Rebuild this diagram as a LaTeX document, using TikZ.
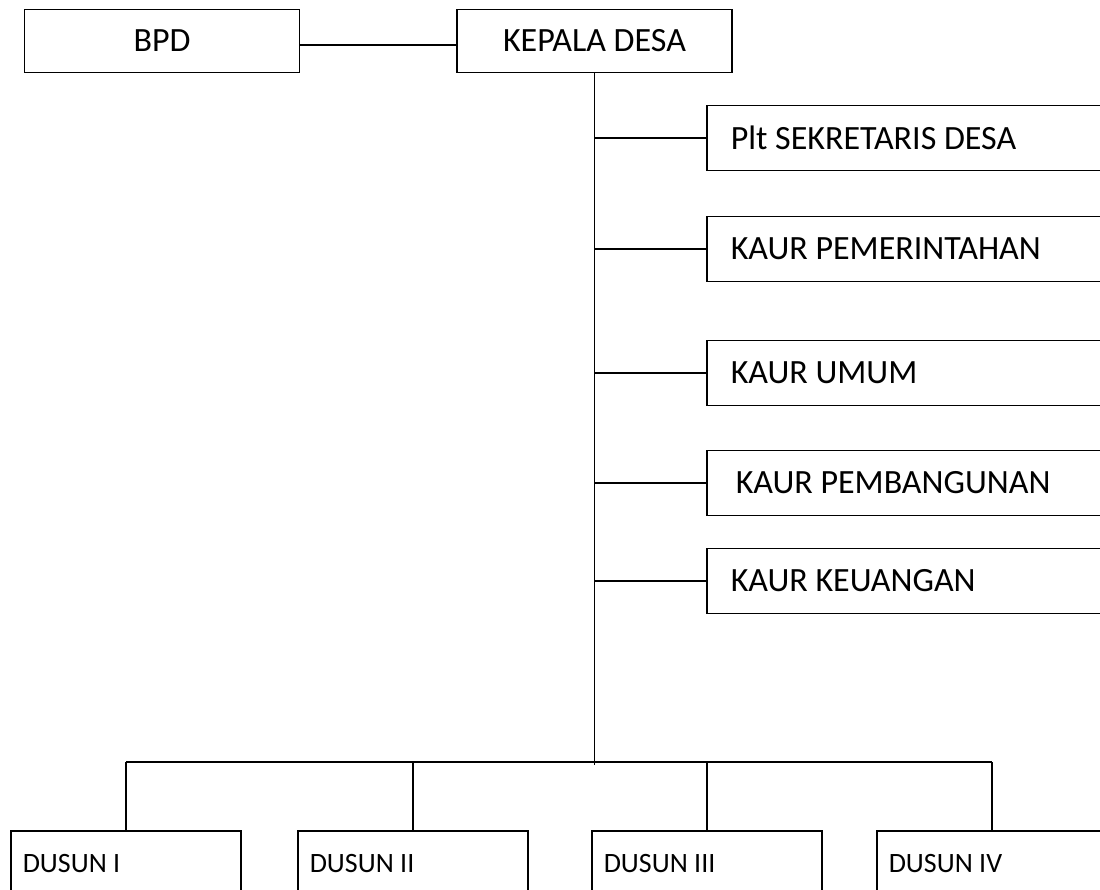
\documentclass[tikz,border=0pt]{standalone}
\usepackage{fontspec}
\setmainfont{Carlito}
\begin{document}
\begin{tikzpicture}[x=1pt,y=-1pt]

    \tikzset{topbox/.style={draw,line width=1.5pt,minimum width=275pt,minimum height=63pt,font=\fontsize{34}{40}\selectfont}}
    \tikzset{kaurbox/.style={draw,line width=1.5pt,anchor=west,text width=390pt,inner xsep=24pt,minimum height=65pt,align=flush left,font=\fontsize{34}{40}\selectfont}}
    \tikzset{dusunbox/.style={draw,line width=1.5pt,anchor=north west,text width=206pt,inner xsep=12pt,minimum height=66pt,align=flush left,font=\fontsize{28}{32}\selectfont}}

    \clip (0,0) rectangle (1100,890);

    \node[topbox] (bpd) at (162, 41) {BPD};
    \node[topbox] (kades) at (594.5, 41) {KEPALA DESA};

    \node[kaurbox] (sekdes) at (706,138) {Plt SEKRETARIS DESA};
    \node[kaurbox] (pemerintahan) at (706,249) {KAUR PEMERINTAHAN};
    \node[kaurbox] (umum) at (706,373) {KAUR UMUM};
    \node[kaurbox,inner xsep=29pt,text width=380pt] (pembangunan) at (706,483) {KAUR PEMBANGUNAN};
    \node[kaurbox] (keuangan) at (706,581) {KAUR KEUANGAN};

    \node[dusunbox] (dusun1) at (10,830) {DUSUN I};
    \node[dusunbox] (dusun2) at (297,830) {DUSUN II};
    \node[dusunbox] (dusun3) at (591,830) {DUSUN III};
    \node[dusunbox] (dusun4) at (876,830) {DUSUN IV};

    \coordinate (bar) at (594.5,762);

    \begin{scope}[every path/.style={line width=1.5pt}]
        \draw ([yshift=-4pt]bpd.east) -- ([yshift=-4pt]kades.west);
        \draw (kades.south) -- ([yshift=-3pt]bar);

        \foreach \k in {sekdes,pemerintahan,umum,pembangunan,keuangan}
            \draw (kades.south |- \k.west) -- (\k.west);

        \draw (bar -| dusun1.north) -- (bar -| dusun4.north);
        \foreach \d in {dusun1,dusun2,dusun3,dusun4}
            \draw (bar -| \d.north) -- (\d.north);
    \end{scope}

\end{tikzpicture}
\end{document}
